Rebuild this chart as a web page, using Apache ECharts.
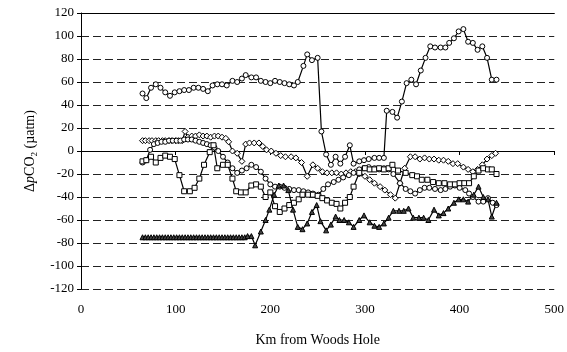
<!DOCTYPE html>
<html><head><meta charset="utf-8">
<script src="https://cdn.jsdelivr.net/npm/echarts@6/dist/echarts.min.js"></script>
<style>html,body{margin:0;padding:0;background:#fff}#c{width:567px;height:352px}</style>
</head><body><div id="c"></div>
<script>
var xTicks = [0, 100, 200, 300, 400, 500];
var yTicks = [-120, -100, -80, -60, -40, -20, 0, 20, 40, 60, 80, 100, 120];

// Series A (circles, upper)
var aX = [65,69,74,79,84,89,94,99,104,109,114,119,124,129,134,139,144,149,154,160,165,170,174,180,185,190,195,200,205,210,215,220,225,229,235,239,244,250,254,259,264,269,274,279,284,288,294,299,304,310,315,320,323,329,334,339,344,349,354,359,364,369,374,380,385,389,394,399,404,409,414,419,424,429,434,439];
var aY = [50,46,55,58,55,51,48,51,52,53,53,55,55,54,52,57,58,58,57,61,60,63,66,64,64,61,60,59,61,60,59,58,57,60,74,84,79,81,17,-3,-12,-5,-11,-5,5,-11,-9,-8,-7,-6,-6,-6,35,34,29,43,59,62,58,70,81,91,90,90,90,94,98,104,106,95,94,88,91,81,62,62];

// Series B (diamonds)
var bX = [65,68,72,75,79,82,86,89,93,96,100,103,107,110,113,117,121,125,129,133,137,141,145,149,153,156,160,165,170,174,178,183,188,192,196,201,206,211,216,222,227,233,239,245,250,255,260,265,270,275,280,285,290,294,300,305,310,316,321,327,332,337,342,348,353,358,363,368,373,378,383,388,393,398,404,409,414,419,424,429,434,438];
var bY = [9,9,9,9,9,9,9,9,9,9,9,9,9,17,12,13,13,14,13,13,12,13,13,12,11,8,0,-2,-9,6,7,7,7,4,1,0,-2,-4,-5,-5,-6,-10,-22,-12,-15,-18,-19,-19,-19,-20,-19,-18,-18,-20,-22,-25,-28,-31,-34,-38,-41,-28,-15,-5,-5,-7,-6,-7,-7,-8,-8,-9,-11,-11,-14,-16,-18,-16,-12,-7,-4,-2];

// Series D (circles, lower)
var dX = [65,69,73,77,81,85,89,93,97,101,105,109,113,117,121,125,129,133,137,141,145,150,155,160,165,170,175,180,185,190,195,200,205,210,215,220,225,230,235,240,245,251,256,261,267,272,277,283,288,294,299,304,310,315,320,325,330,337,343,348,353,358,363,368,374,380,385,390,395,400,406,410,414,420,425,430,435,439];
var dY = [-10,-8,1,6,7,8,8,9,9,9,9,10,10,10,9,8,7,6,5,3,0,-5,-10,-15,-19,-17,-15,-12,-14,-18,-24,-29,-31,-31,-32,-33,-34,-34,-35,-36,-37,-38,-33,-29,-27,-25,-23,-21,-19,-16,-15,-14,-15,-16,-15,-16,-20,-28,-33,-35,-37,-34,-32,-32,-33,-34,-33,-31,-30,-32,-34,-37,-40,-44,-44,-41,-45,-47];

// Series S (squares)
var sX = [65,69,74,79,84,89,94,99,104,109,115,120,125,130,136,140,144,150,155,160,164,169,174,180,185,190,195,200,205,210,215,220,225,230,234,240,245,250,255,260,265,270,274,279,284,288,294,300,305,310,315,320,325,329,335,343,350,355,360,366,372,378,384,390,395,400,405,410,415,420,425,430,434,439];
var sY = [-9,-8,-5,-10,-6,-4,-5,-7,-21,-35,-35,-32,-24,-12,-1,5,-15,-12,-12,-24,-35,-36,-36,-30,-29,-31,-40,-36,-48,-53,-50,-47,-45,-42,-38,-38,-38,-39,-41,-43,-45,-46,-50,-45,-40,-31,-19,-15,-16,-16,-15,-16,-15,-12,-17,-19,-21,-22,-25,-25,-27,-28,-28,-29,-29,-28,-28,-28,-22,-17,-15,-16,-16,-20];

// Series T (triangles)
var tX = [65,68,71,74,77,80,83,86,89,92,95,98,101,104,107,110,113,116,119,122,125,128,131,134,137,140,143,146,149,152,155,158,161,164,167,170,173,176,180,184,190,195,199,204,209,214,219,224,229,234,239,244,249,253,259,264,269,273,278,283,288,294,299,305,310,315,320,325,330,336,341,346,351,357,362,367,373,378,383,388,394,399,404,409,415,420,425,430,434,439];
var tY = [-75,-75,-75,-75,-75,-75,-75,-75,-75,-75,-75,-75,-75,-75,-75,-75,-75,-75,-75,-75,-75,-75,-75,-75,-75,-75,-75,-75,-75,-75,-75,-75,-75,-75,-75,-75,-75,-74,-74,-82,-70,-60,-51,-38,-30,-30,-34,-51,-66,-68,-63,-53,-47,-61,-69,-64,-57,-60,-60,-62,-66,-60,-56,-62,-65,-66,-63,-58,-52,-52,-52,-50,-58,-58,-58,-60,-51,-56,-54,-50,-45,-42,-42,-44,-38,-31,-40,-42,-57,-45];

function pairs(xs, ys) { var r = []; for (var i = 0; i < xs.length; i++) r.push([xs[i], ys[i]]); return r; }

var font = 'Liberation Serif';
function mk(name, xs, ys, symbol, size, fill) {
  return {
    name: name, type: 'line', data: pairs(xs, ys), symbol: symbol, symbolSize: size,
    showAllSymbol: true, animation: false,
    lineStyle: { color: '#000', width: 1.2 },
    itemStyle: { color: fill, borderColor: '#000', borderWidth: 1 }
  };
}

var chart = echarts.init(document.getElementById('c'));
chart.setOption({
  animation: false,
  grid: { left: 81, right: 11, top: 13, bottom: 63 },
  xAxis: [{
    type: 'value', min: xTicks[0], max: xTicks[xTicks.length - 1], interval: 100,
    name: 'Km from Woods Hole', nameLocation: 'middle', nameGap: 44,
    nameTextStyle: { fontFamily: font, fontSize: 14, color: '#000' },
    axisLine: { show: true, lineStyle: { color: '#000', width: 1 } },
    axisTick: { show: true, length: 4, lineStyle: { color: '#000' } },
    axisLabel: { fontFamily: font, fontSize: 13, color: '#000', margin: 14 },
    splitLine: { show: false }
  }, {
    type: 'value', position: 'top', min: xTicks[0], max: xTicks[xTicks.length - 1], interval: 100,
    axisLine: { show: true, lineStyle: { color: '#000', width: 1 } },
    axisTick: { show: false }, axisLabel: { show: false }, splitLine: { show: false }
  }],
  yAxis: {
    type: 'value', min: yTicks[0], max: yTicks[yTicks.length - 1], interval: 20,
    name: '{a|Δ}{i|p}{a|CO}{s|2}{a| (µatm)}', nameLocation: 'middle', nameGap: 34, nameRotate: 90,
    nameTextStyle: {
      fontFamily: font, fontSize: 14, color: '#000',
      rich: {
        a: { fontFamily: font, fontSize: 14, color: '#000', lineHeight: 18 },
        i: { fontFamily: font, fontSize: 14, fontStyle: 'italic', color: '#000', lineHeight: 18 },
        s: { fontFamily: font, fontSize: 9, color: '#000', lineHeight: 18, verticalAlign: 'bottom', padding: [5, 0, 0, 0] }
      }
    },
    axisLine: { show: true, lineStyle: { color: '#000', width: 1 } },
    axisTick: { show: true, length: 4, lineStyle: { color: '#000' } },
    axisLabel: { fontFamily: font, fontSize: 13, color: '#000', margin: 7 },
    splitLine: { show: true, lineStyle: { color: '#222', type: [8, 4], width: 1 } }
  },
  series: [
    mk('A', aX, aY, 'circle', 5, '#fff'),
    mk('B', bX, bY, 'diamond', 6, '#fff'),
    mk('D', dX, dY, 'circle', 5, '#fff'),
    mk('S', sX, sY, 'rect', 5, '#fff'),
    mk('T', tX, tY, 'triangle', 5, '#444')
  ]
});
</script></body></html>
